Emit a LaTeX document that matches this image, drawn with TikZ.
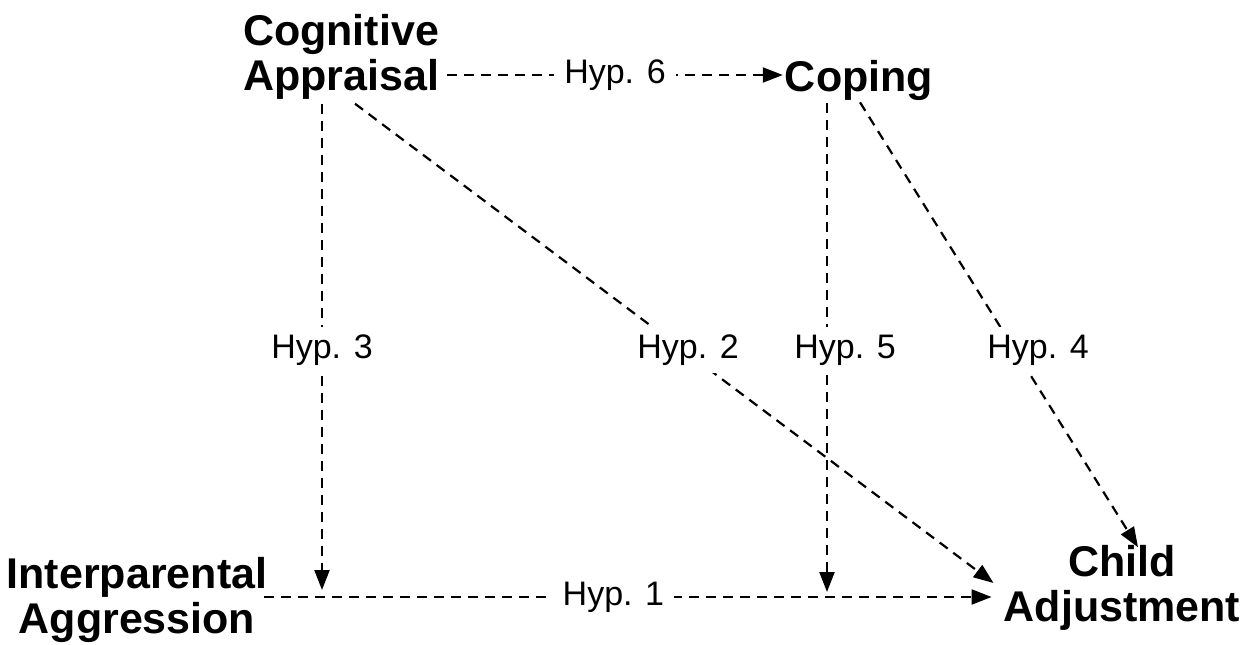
\documentclass[tikz,border=0pt]{standalone}
\usepackage{fontspec}
\setmainfont{Liberation Sans}
\usetikzlibrary{arrows.meta}

\tikzset{
  construct/.style={font=\fontsize{43}{45}\selectfont\bfseries, inner sep=0pt, align=center},
  hyplabel/.style={font=\fontsize{34}{40}\selectfont, fill=white, inner xsep=10pt, inner ysep=8pt},
  path link/.style={line width=2.2pt, dash pattern=on 10pt off 7pt,
    -{Triangle[length=20pt, width=15pt]}},
}

\begin{document}
\begin{tikzpicture}[x=1pt, y=-1pt]
  \useasboundingbox (0,0) rectangle (1248,645);

  % constructs of the model
  \node[construct, align=left] (CA) at (341,57) {Cognitive\\Appraisal};
  \node[construct] (Cop) at (859,80) {Coping};
  \node[construct] (IA) at (137,600) {Interparental\\Aggression};
  \node[construct] (CAdj) at (1122,588) {Child\\Adjustment};

  % points on the direct path where the moderators act
  \coordinate (A3) at (322,597);
  \coordinate (A5) at (827,597);

  % Hyp. 6: appraisal to coping
  \draw[path link] ([xshift=8pt, yshift=-18pt]CA.east)
    -- node[hyplabel] (h6) {Hyp. 6} ([xshift=-2pt, yshift=5pt]Cop.west);

  % Hyp. 1: aggression to adjustment
  \draw[path link] ([xshift=-3pt]IA.east |- A3)
    -- node[hyplabel, pos=0.48] (h1) {Hyp. 1} ([xshift=-12pt]CAdj.west |- A3);

  % Hyp. 3: appraisal moderating the direct path
  \draw[path link, shorten >=7pt] ([yshift=-4pt]CA.south -| A3) -- (A3);
  \node[hyplabel] (h3) at (322,350) {Hyp. 3};

  % Hyp. 2: appraisal to adjustment
  \draw[path link] ([xshift=14pt, yshift=-4pt]CA.south) -- ([xshift=-10pt, yshift=5pt]CAdj.west);
  \node[hyplabel] (h2) at (688,350) {Hyp. 2};

  % Hyp. 5: coping moderating the direct path
  \draw[path link, shorten >=5pt] ([yshift=-3pt]Cop.south -| A5) -- (A5);
  \node[hyplabel] (h5) at (845,350) {Hyp. 5};

  % Hyp. 4: coping to adjustment
  \draw[path link] ([xshift=1pt, yshift=-2pt]Cop.south) -- ([xshift=16pt, yshift=-2pt]CAdj.north);
  \node[hyplabel] (h4) at (1038,350) {Hyp. 4};
\end{tikzpicture}
\end{document}
